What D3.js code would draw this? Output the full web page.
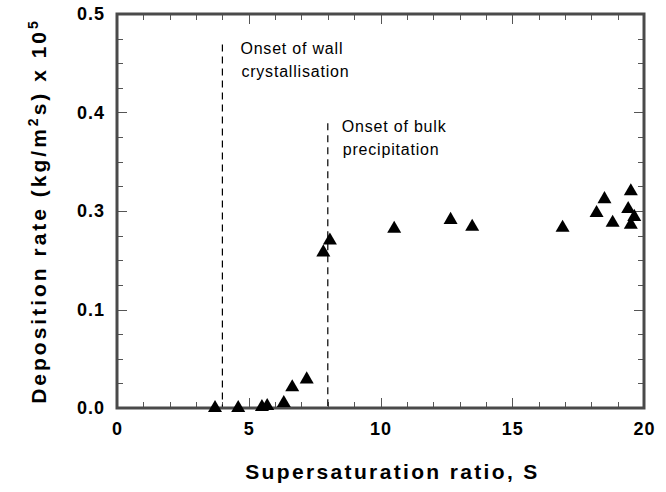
<!DOCTYPE html>
<html>
<head>
<meta charset="utf-8">
<script src="https://cdnjs.cloudflare.com/ajax/libs/d3/7.8.5/d3.min.js"></script>
<style>
  body { margin: 0; background: #fff; }
  svg { display: block; font-family: 'Liberation Sans', Arial, sans-serif; }
</style>
</head>
<body>
<svg></svg>
<script>
// supersaturation ratio S and deposition rate (plotted units)
const sValues = [3.72, 4.6, 5.5, 5.7, 6.33, 6.65, 7.2, 7.83, 8.08, 10.52, 12.66, 13.48, 16.91, 18.2, 18.5, 18.81, 19.4, 19.5, 19.63, 19.5];
const rateValues = [0, 0, 0.001, 0.002, 0.005, 0.021, 0.029, 0.158, 0.17, 0.182, 0.191, 0.184, 0.183, 0.198, 0.212, 0.188, 0.202, 0.22, 0.194, 0.186];

const xTicks = [0, 5, 10, 15, 20];
const yTicks = [0, 0.1, 0.2, 0.3, 0.4];
const yTickLabels = ['0.0', '0.1', '0.3', '0.4', '0.5'];

const onsetS = [4.0, 8.0];
const onsetTop = [0.369, 0.289];
const onsetText = [['Onset of wall', 'crystallisation'], ['Onset of bulk', 'precipitation']];

const width = 666;
const height = 492;
const margin = { left: 117, right: 22, top: 14, bottom: 84 };

const svg = d3.select('svg').attr('width', width).attr('height', height);

const xScale = d3.scaleLinear().domain([0, 20]).range([margin.left, width - margin.right]);
const yScale = d3.scaleLinear().domain([0, 0.4]).range([height - margin.bottom, margin.top]);

const x0 = xScale(0), x1 = xScale(20), y0 = yScale(0), y1 = yScale(0.4);

// inward ticks on all four sides
const xMinor = d3.range(0, 21, 1);
const yMinor = d3.range(0, 0.4001, 0.025);
const tickColor = '#555';

const drawTicks = () => {
  const g = svg.append('g').attr('stroke', tickColor).attr('stroke-width', 1);
  xMinor.forEach((v) => {
    const len = v % 5 === 0 ? 10 : 6;
    const x = Math.round(xScale(v)) + 0.5;
    g.append('line').attr('x1', x).attr('x2', x).attr('y1', y0).attr('y2', y0 - len);
    g.append('line').attr('x1', x).attr('x2', x).attr('y1', y1).attr('y2', y1 + len);
  });
  yMinor.forEach((v, i) => {
    const len = i % 4 === 0 ? 10 : 6;
    const y = Math.round(yScale(v)) + 0.5;
    g.append('line').attr('x1', x0).attr('x2', x0 + len).attr('y1', y).attr('y2', y);
    g.append('line').attr('x1', x1).attr('x2', x1 - len).attr('y1', y).attr('y2', y);
  });
};
drawTicks();

// tick labels
const xAxis = d3.axisBottom(xScale).tickValues(xTicks).tickSize(0).tickPadding(14);
const xg = svg.append('g').attr('transform', 'translate(0,' + y0 + ')').call(xAxis);
xg.select('.domain').remove();
xg.selectAll('text')
  .attr('font-family', 'Liberation Sans, Arial, sans-serif')
  .attr('font-size', 18).attr('font-weight', 'bold')
  .attr('letter-spacing', 1).attr('fill', '#000');

const yAxis = d3.axisLeft(yScale).tickValues(yTicks).tickSize(0).tickPadding(12)
  .tickFormat((d, i) => yTickLabels[i]);
const yg = svg.append('g').attr('transform', 'translate(' + x0 + ',0)').call(yAxis);
yg.select('.domain').remove();
yg.selectAll('text')
  .attr('font-family', 'Liberation Sans, Arial, sans-serif')
  .attr('font-size', 18).attr('font-weight', 'bold')
  .attr('letter-spacing', 1).attr('fill', '#000');

// onset lines and notes
const textDx = [18, 14];
onsetS.forEach((s, i) => {
  svg.append('line')
    .attr('x1', xScale(s)).attr('x2', xScale(s))
    .attr('y1', yScale(onsetTop[i])).attr('y2', y0)
    .attr('stroke', '#000').attr('stroke-width', 1.2)
    .attr('stroke-dasharray', '7,5');
  const t = svg.append('text')
    .attr('y', yScale(onsetTop[i]) + 9)
    .attr('font-family', 'Liberation Sans, Arial, sans-serif')
    .attr('font-size', 16).attr('letter-spacing', 0.8).attr('fill', '#000');
  onsetText[i].forEach((line, j) => {
    t.append('tspan').attr('x', xScale(s) + textDx[i] + (j ? 1 : 0)).attr('dy', j ? 23 : 0).text(line);
  });
});

// frame
svg.append('rect')
  .attr('x', x0).attr('y', y1)
  .attr('width', x1 - x0).attr('height', y0 - y1)
  .attr('fill', 'none').attr('stroke', '#4a4a4a').attr('stroke-width', 3);

// data points
const tri = d3.symbol().type(d3.symbolTriangle).size(85);
svg.append('g')
  .selectAll('path')
  .data(sValues)
  .enter()
  .append('path')
  .attr('d', tri)
  .attr('transform', (d, i) => 'translate(' + xScale(d) + ',' + yScale(rateValues[i]) + ')')
  .attr('fill', '#000');

// axis titles
svg.append('text')
  .attr('x', (x0 + x1) / 2 + 12).attr('y', 479)
  .attr('text-anchor', 'middle')
  .attr('font-size', 21).attr('font-weight', 'bold').attr('letter-spacing', 2.35)
  .text('Supersaturation ratio, S');

const yt = svg.append('text')
  .attr('transform', 'translate(46,' + ((y0 + y1) / 2) + ') rotate(-90)')
  .attr('text-anchor', 'middle')
  .attr('font-size', 21).attr('font-weight', 'bold').attr('letter-spacing', 3);
yt.append('tspan').text('Deposition rate (kg/m');
yt.append('tspan').attr('font-size', 14).attr('baseline-shift', '55%').text('2');
yt.append('tspan').text('s) x 10');
yt.append('tspan').attr('font-size', 14).attr('baseline-shift', '55%').text('5');
</script>
</body>
</html>
